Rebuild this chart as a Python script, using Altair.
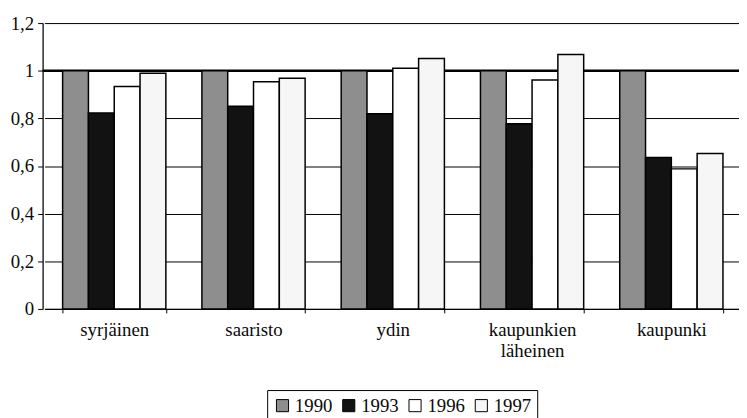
import altair as alt
import pandas as pd

categories = ["syrjäinen", "saaristo", "ydin", "kaupunkien läheinen", "kaupunki"]
years = ["1990", "1993", "1996", "1997"]
v1990 = [1.0, 1.0, 1.0, 1.0, 1.0]
v1993 = [0.823, 0.851, 0.819, 0.777, 0.636]
v1996 = [0.934, 0.954, 1.010, 0.961, 0.588]
v1997 = [0.989, 0.968, 1.051, 1.068, 0.653]
y_ticks = [0, 0.2, 0.4, 0.6, 0.8, 1.0, 1.2]
colors = ["#8e8e8e", "#121212", "#ffffff", "#f6f6f6"]

rows = []
for yr, vals in zip(years, [v1990, v1993, v1996, v1997]):
    for c, v in zip(categories, vals):
        rows.append({"alue": c, "vuosi": yr, "arvo": v})
df = pd.DataFrame(rows)
ref = pd.DataFrame({"v": [1.0]})

FONT = "Liberation Serif"
FS = 19

y_scale = alt.Scale(domain=[0, 1.2], nice=False, zero=True)

bars = alt.Chart(df).mark_bar(stroke="black", strokeWidth=1.5).encode(
    x=alt.X(
        "alue:N",
        sort=categories,
        scale=alt.Scale(paddingInner=0.2588, paddingOuter=0.1294, range=[2, 706]),
        axis=alt.Axis(
            title=None,
            labelAngle=0,
            labelFont=FONT,
            labelFontSize=FS,
            labelColor="#0a0a0a",
            labelPadding=8,
            labelLineHeight=21,
            labelExpr="datum.label == 'kaupunkien läheinen' ? ['kaupunkien', 'läheinen'] : datum.label",
            tickBand="extent",
            tickSize=4,
            tickColor="black",
            domainColor="black",
            domainWidth=1.2,
            grid=False,
        ),
    ),
    xOffset=alt.XOffset("vuosi:N", sort=years, scale=alt.Scale(paddingInner=0, paddingOuter=0)),
    y=alt.Y(
        "arvo:Q",
        scale=y_scale,
        axis=alt.Axis(
            title=None,
            values=y_ticks,
            labelExpr="replace(format(datum.value, '.1~f'), '.', ',')",
            labelFont=FONT,
            labelFontSize=FS,
            labelColor="#0a0a0a",
            labelPadding=4,
            tickSize=5,
            tickColor="black",
            domainColor="black",
            domainWidth=1.2,
            grid=True,
            gridColor="black",
            gridWidth=1,
            gridOpacity=1,
        ),
    ),
    color=alt.Color(
        "vuosi:N",
        sort=years,
        scale=alt.Scale(domain=years, range=colors),
        legend=alt.Legend(
            title=None,
            orient="none",
            legendX=227,
            legendY=371,
            direction="horizontal",
            symbolType="square",
            symbolSize=150,
            symbolStrokeColor="black",
            symbolStrokeWidth=1,
            symbolOpacity=1,
            labelFont=FONT,
            labelFontSize=FS,
            labelColor="#0a0a0a",
            labelOffset=3,
            columnPadding=7,
            strokeColor="black",
            fillColor="white",
            padding=6,
            cornerRadius=0,
        ),
    ),
)

one_line = alt.Chart(ref).mark_rule(color="black", strokeWidth=2.6).encode(
    y=alt.Y("v:Q", scale=y_scale)
)

chart = alt.layer(one_line, bars).properties(
    width=704,
    height=289,
    autosize=alt.AutoSizeParams(type="none"),
    padding={"left": 35, "top": 13, "right": 0, "bottom": 108},
).configure_view(stroke=None).configure(background="white")

chart.save("out.html", embed_options={"renderer": "svg", "actions": False})
